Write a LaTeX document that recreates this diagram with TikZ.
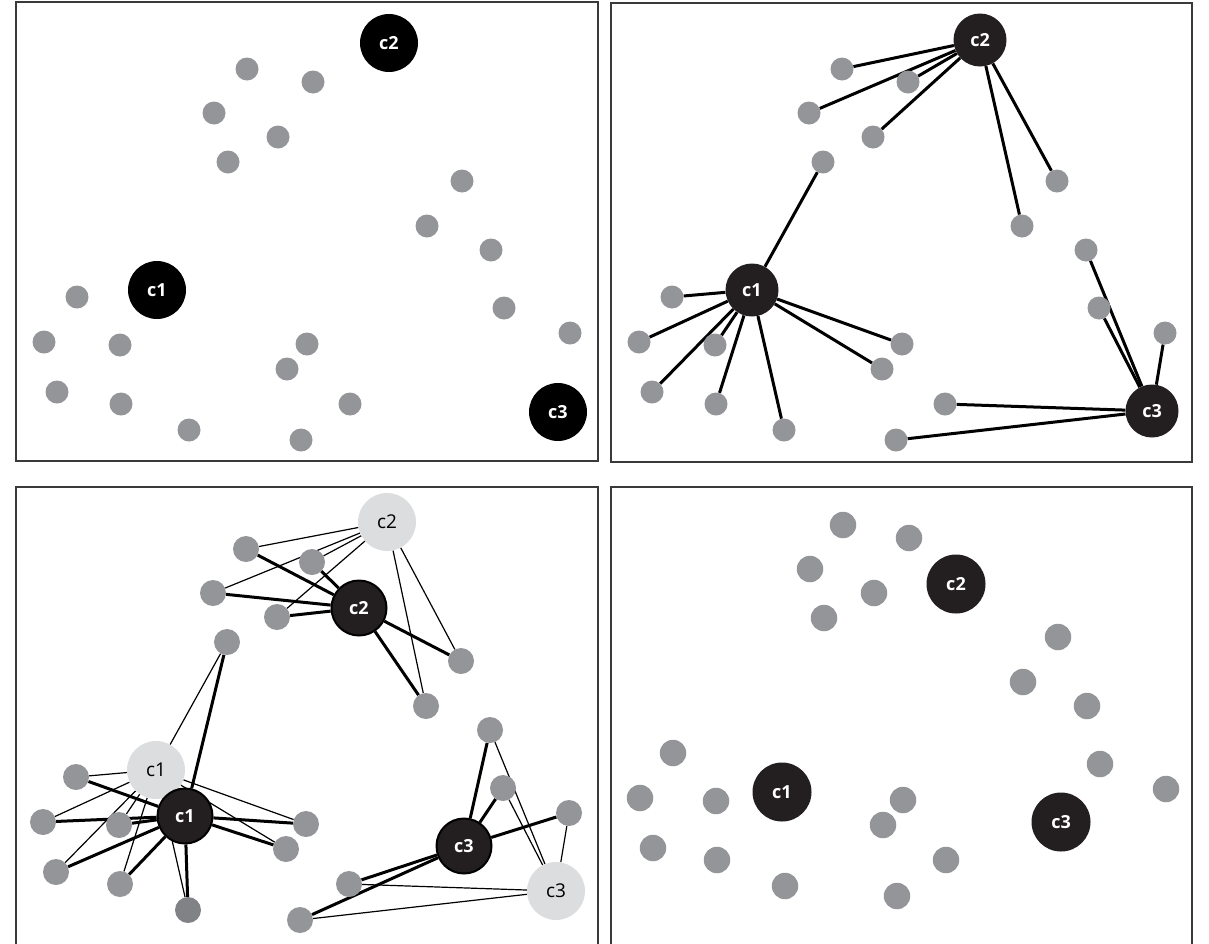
\documentclass[tikz,border=0pt]{standalone}
\usepackage{fontspec}
\setsansfont{Open Sans}
\usetikzlibrary{backgrounds}

\definecolor{dotgray}{HTML}{939598}
\definecolor{dotdark}{HTML}{808285}
\definecolor{centdark}{HTML}{231F20}
\definecolor{centlight}{HTML}{DCDDDE}
\definecolor{framegray}{HTML}{3A3A3A}

\tikzset{
    datapt/.style={circle, fill=dotgray, inner sep=0pt, minimum size=23pt},
    centre/.style={circle, fill=centdark, inner sep=0pt, minimum size=53pt, text=white,
        font=\sffamily\bfseries\fontsize{18}{18}\selectfont},
    oldcentre/.style={centre, fill=centlight, text=black, minimum size=58pt,
        font=\sffamily\fontsize{19}{19}\selectfont},
    link/.style={line width=3pt},
    oldlink/.style={line width=1.2pt},
    panel/.style={draw=framegray, line width=1.5pt}
}

\def\points{1/247/69, 2/313/82, 3/214/113, 4/278/137, 5/228/162,
    6/462/181, 7/427/226, 8/491/250, 9/504/308, 10/570/333,
    11/77/297, 12/44/342, 13/120/345, 14/57/392, 15/121/404,
    16/189/430, 17/307/344, 18/287/369, 19/350/404, 20/301/440}

\begin{document}
\begin{tikzpicture}[x=1pt, y=-1pt]

        \useasboundingbox (0,0) rectangle (1209,943);

                \draw[panel] (16,2) rectangle (598,461);
                \draw[panel] (611,3) rectangle (1192,462);
                \draw[panel] (16,950) |- (598,487) -- (598,950);
                \draw[panel] (611,950) |- (1192,487) -- (1192,950);

        
                \foreach \n/\x/\y in \points {
                    \node[datapt] (a\n) at (\x,\y) {};
                }
                \node[centre, fill=black, minimum size=58pt] (ac1) at (157,290) {c1};
                \node[centre, fill=black, minimum size=58pt] (ac2) at (389,43) {c2};
                \node[centre, fill=black, minimum size=58pt] (ac3) at (558,412) {c3};

        
            \begin{scope}[shift={(595,0)}]
                \foreach \n/\x/\y in \points {
                    \node[datapt] (b\n) at (\x,\y) {};
                }
                \node[centre] (bc1) at (157,290) {c1};
                \node[centre] (bc2) at (385,40) {c2};
                \node[centre] (bc3) at (557,411) {c3};

                \begin{scope}[on background layer]
                    \foreach \n in {1, 2, 3, 4, 6, 7} {
                        \draw[link] (bc2) -- (b\n);
                    }
                    \foreach \n in {5, 11, 12, 13, 14, 15, 16, 17, 18} {
                        \draw[link] (bc1) -- (b\n);
                    }
                    \foreach \n in {8, 9, 10, 19, 20} {
                        \draw[link] (bc3) -- (b\n);
                    }
                \end{scope}
            \end{scope}

        
            \begin{scope}[shift={(-1,480)}, pt16/.style={fill=dotdark}]
                \foreach \n/\x/\y in \points {
                    \node[datapt, minimum size=26pt, pt\n/.try] (c\n) at (\x,\y) {};
                }
                \node[oldcentre] (cold1) at (157,290) {c1};
                \node[oldcentre] (cold2) at (388,42) {c2};
                \node[oldcentre] (cold3) at (557,411) {c3};
                \node[centre, draw=black, line width=2pt, minimum size=55pt] (cnew1) at (186,336) {c1};
                \node[centre, draw=black, line width=2pt, minimum size=55pt] (cnew2) at (360,128) {c2};
                \node[centre, draw=black, line width=2pt, minimum size=55pt] (cnew3) at (465,366) {c3};

                \begin{scope}[on background layer]
                    \foreach \n in {1, 2, 3, 4, 6, 7} {
                        \draw[oldlink] (cold2) -- (c\n);
                        \draw[link] (cnew2) -- (c\n);
                    }
                    \foreach \n in {5, 11, 12, 13, 14, 15, 16, 17, 18} {
                        \draw[oldlink] (cold1) -- (c\n);
                        \draw[link] (cnew1) -- (c\n);
                    }
                    \foreach \n in {8, 9, 10, 19, 20} {
                        \draw[oldlink] (cold3) -- (c\n);
                        \draw[link] (cnew3) -- (c\n);
                    }
                \end{scope}
            \end{scope}

        
            \begin{scope}[shift={(596,456)}]
                \foreach \n/\x/\y in \points {
                    \node[datapt, minimum size=26.5pt] (d\n) at (\x,\y) {};
                }
                \node[centre, minimum size=59pt] (dc1) at (186,336) {c1};
                \node[centre, minimum size=59pt] (dc2) at (360,128) {c2};
                \node[centre, minimum size=59pt] (dc3) at (465,366) {c3};
            \end{scope}

\end{tikzpicture}
\end{document}
